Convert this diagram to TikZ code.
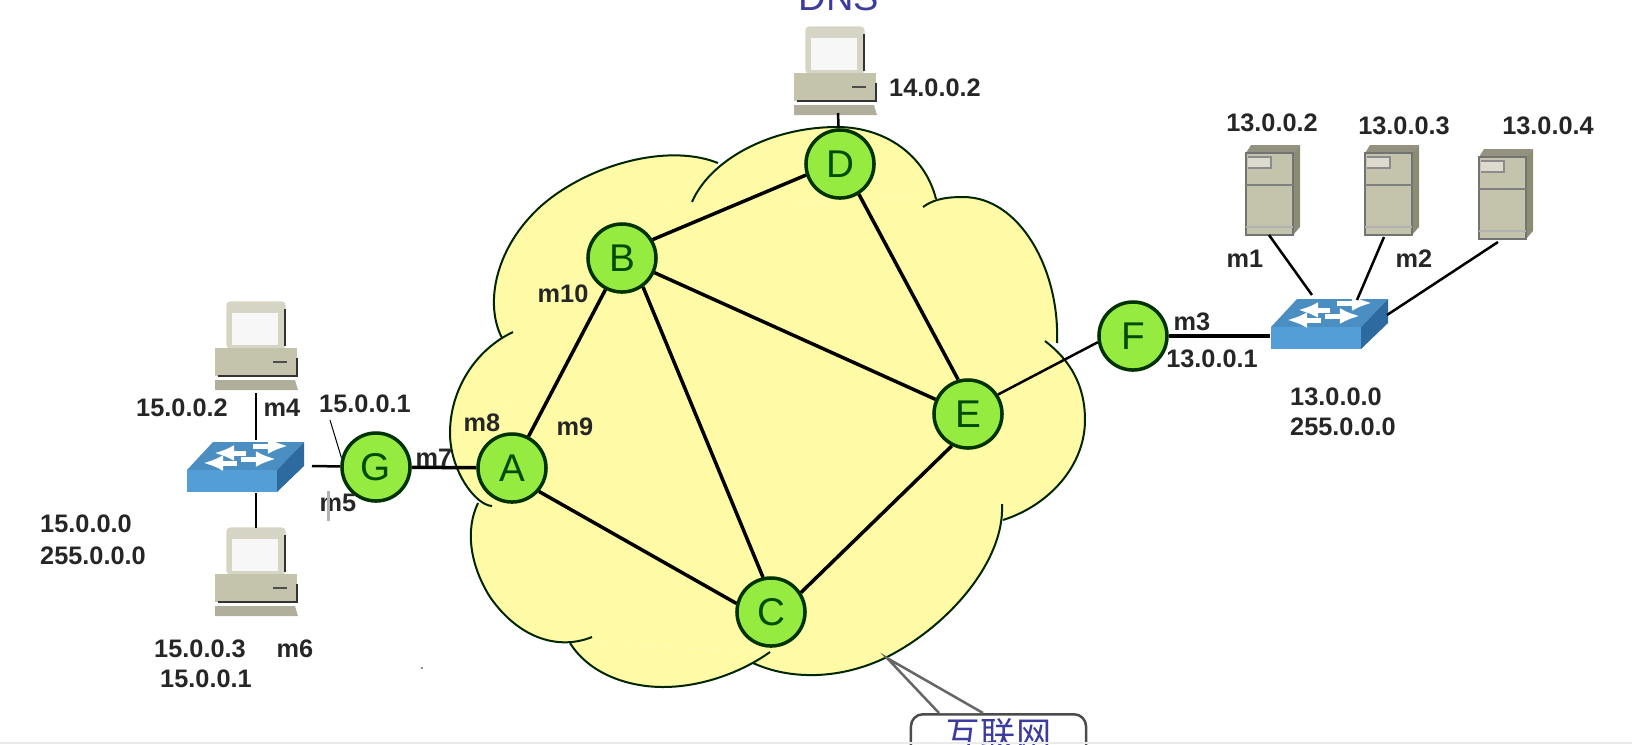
\documentclass[tikz,border=0pt]{standalone}
\usepackage{fontspec}
\setmainfont{Liberation Sans}
\newfontfamily\cjk{Noto Sans CJK SC}
\usetikzlibrary{arrows.meta}
\definecolor{cloudyellow}{RGB}{255,250,165}
\definecolor{routergreen}{RGB}{150,235,65}
\definecolor{boxgray}{RGB}{196,195,172}
\definecolor{boxdark}{RGB}{140,140,115}
\definecolor{switchblue}{RGB}{84,158,216}
\definecolor{switchdark}{RGB}{44,106,160}
\definecolor{labelblue}{RGB}{60,60,160}
\def\cloudbump#1{\fill[cloudyellow] #1; \draw[line width=0.2mm, color=black!85!green] #1;}
\tikzset{
	router/.style={circle, draw=black!80!green, fill=routergreen, line width=0.35mm, minimum size=0.68cm, inner sep=0pt, font=\fontsize{11}{11}\selectfont, text=black!70!green},
	infotext/.style={font=\bfseries\fontsize{7.2}{7.2}\selectfont, text=black!85, inner sep=0pt},
	linkline/.style={line width=0.35mm, color=black},
	thinlink/.style={line width=0.25mm, color=black},
	pccomp/.pic={
		\draw[fill=boxgray!70, draw=boxgray!70, rounded corners=1pt] (-29, 0) rectangle (29, 46);
		\fill[black!3] (-24, 11) rectangle (22, 43);
		\draw[line width=0.25mm, color=black!80] (29, 7) -- (29, 44);
		\fill[boxgray] (-41, 46) rectangle (41, 74);
		\draw[line width=0.25mm, color=black!80] (41, 56) -- (41, 74) -- (-38, 74);
		\draw[line width=0.2mm, color=black!70] (17, 60) -- (31, 60);
		\fill[boxgray!90!black] (-41, 78) -- (39, 78) -- (42, 88) -- (-41, 88) -- cycle;
	},
	srvcomp/.pic={
		\fill[boxgray!75!black] (0, 0) -- (5, -8) -- (54, -8) -- (47, 0) -- cycle;
		\fill[boxdark] (47, 0) -- (54, -8) -- (54, 74) -- (47, 82) -- cycle;
		\draw[fill=boxgray, draw=black!55, line width=0.2mm] (0, 0) rectangle (47, 82);
		\draw[draw=black!45, line width=0.2mm, fill=boxgray!60] (2, 4) -- (25, 4) -- (25, 15) -- (2, 15);
		\draw[line width=0.25mm, color=black!50] (0, 32) -- (47, 32);
		\draw[line width=0.2mm, color=black!30] (0, 74) -- (47, 74);
	},
	swcomp/.pic={
		\fill[switchblue!90!black] (0, 0) -- (26, -28) -- (117, -28) -- (90, 0) -- cycle;
		\fill[switchdark] (90, 0) -- (117, -28) -- (117, -4) -- (90, 22) -- cycle;
		\fill[switchblue] (0, 0) rectangle (90, 22);
		\foreach \xa/\xb/\ya in {59/27/-17, 66/101/-24, 50/16/-7, 54/89/-11}
			\draw[-{Latex[length=2mm,width=1.6mm]}, line width=0.5mm, color=white] (\xa, \ya) -- (\xb, \ya);
	}
}

\begin{document}
\begin{tikzpicture}[x=0.01cm, y=-0.01cm]
		%%%%% START %%%%%
		\useasboundingbox (0, 0) rectangle (1632, 744);
		\clip (0, 0) rectangle (1632, 744);
		
		% cloud
		\fill[cloudyellow] (502, 338) -- (718, 163) -- (692, 202) -- (936, 199) -- (923, 207) -- (1057, 343) -- (1045, 341) -- (1003, 520) -- (1002, 504) -- (753, 663) -- (770, 652) -- (570, 643) -- (592, 637) -- (478, 503) -- (492, 506) -- (513, 332) -- cycle;
		\cloudbump{(502, 338) .. controls (485, 305) and (495, 255) .. (530, 217) .. controls (570, 172) and (660, 140) .. (718, 163)}
		\cloudbump{(692, 202) .. controls (710, 160) and (770, 127) .. (837, 127) .. controls (885, 127) and (925, 155) .. (936, 199)}
		\cloudbump{(923, 207) .. controls (935, 198) and (950, 197) .. (963, 197) .. controls (1020, 197) and (1060, 270) .. (1057, 343)}
		\cloudbump{(1045, 341) .. controls (1070, 360) and (1085, 385) .. (1085, 420) .. controls (1085, 465) and (1050, 505) .. (1003, 520)}
		\cloudbump{(1002, 504) .. controls (1005, 560) and (950, 625) .. (887, 657) .. controls (840, 680) and (790, 680) .. (753, 663)}
		\cloudbump{(570, 643) .. controls (590, 675) and (630, 687) .. (663, 687) .. controls (705, 687) and (745, 670) .. (770, 652)}
		\cloudbump{(592, 637) .. controls (560, 650) and (520, 640) .. (490, 597) .. controls (470, 565) and (465, 530) .. (478, 503)}
		\cloudbump{(492, 506) .. controls (475, 505) and (450, 470) .. (450, 433) .. controls (450, 390) and (475, 350) .. (513, 332)}
		
		% devices
		\pic (pcup) at (256, 302) {pccomp};
		\pic (pcdown) at (256, 528) {pccomp};
		\pic (pcdns) at (835, 27) {pccomp};
		\pic (srva) at (1246, 153) {srvcomp};
		\pic (srvb) at (1365, 153) {srvcomp};
		\pic (srvc) at (1479, 157) {srvcomp};
		\pic (swleft) at (187, 470) {swcomp};
		\pic (swright) at (1271, 327) {swcomp};
		
		% routers
		\node[router] (A) at (512, 468) {A};
		\node[router] (B) at (622, 258) {B};
		\node[router] (C) at (771, 612) {C};
		\node[router] (D) at (840, 164) {D};
		\node[router] (E) at (968, 414) {E};
		\node[router] (F) at (1133, 336) {F};
		\node[router] (G) at (376, 467) {G};
		
		% free ends beside the devices
		\coordinate (pcupend) at (256, 393);
		\coordinate (swupend) at (256, 440);
		\coordinate (swdownend) at (256, 493);
		\coordinate (pcdownend) at (256, 528);
		\coordinate (swgend) at (312, 466);
		\coordinate (pcdnsend) at (838, 113);
		\coordinate (srvaend) at (1269, 235);
		\coordinate (srvbend) at (1384, 237);
		\coordinate (srvcend) at (1498, 242);
		\coordinate (swaend) at (1312, 295);
		\coordinate (swbend) at (1357, 300);
		\coordinate (swcend) at (1387, 315);
		\coordinate (swfend) at (1270, 336);
		\coordinate (gtagend) at (330, 420);
		
		% links
		\draw[linkline] (A) -- (B);
		\draw[linkline] (A.-41) -- (C.166);
		\draw[linkline] (B.-54) -- (C.103);
		\draw[linkline] (B.31) -- (D.198);
		\draw[linkline] (B) -- (E);
		\draw[linkline] (D.-58) -- (E.106);
		\draw[linkline] (E.243) -- (C.33);
		\draw[thinlink] (E.33) -- (F.190);
		\draw[linkline] (F) -- (swfend);
		\draw[linkline] (G) -- (A);
		\draw[thinlink] (G) -- (swgend);
		\draw[thinlink] (pcupend) -- (swupend);
		\draw[thinlink] (swdownend) -- (pcdownend);
		\draw[thinlink] (pcdnsend) -- (D);
		\draw[thinlink] (srvaend) -- (swaend);
		\draw[thinlink] (srvbend) -- (swbend);
		\draw[thinlink] (srvcend) -- (swcend);
		\draw[line width=0.1mm] (gtagend) -- (G.165);
		
		% labels
		\node[infotext] (ipa) at (182, 408) {15.0.0.2};
		\node[infotext] (mfour) at (282, 408) {m4};
		\node[infotext] (ipb) at (365, 404) {15.0.0.1};
		\node[infotext] (meight) at (482, 423) {m8};
		\node[infotext] (mseven) at (434, 458) {m7};
		\node[infotext] (mfive) at (338, 503) {m5};
		\node[infotext] (netleft) at (86, 524) {15.0.0.0};
		\node[infotext] (maskleft) at (93, 556) {255.0.0.0};
		\node[infotext] (ipc) at (200, 649) {15.0.0.3};
		\node[infotext] (msix) at (295, 649) {m6};
		\node[infotext] (ipd) at (206, 679) {15.0.0.1};
		\node[infotext] (ipdns) at (935, 88) {14.0.0.2};
		\node[infotext] (ipe) at (1272, 123) {13.0.0.2};
		\node[infotext] (ipf) at (1404, 126) {13.0.0.3};
		\node[infotext] (ipg) at (1548, 126) {13.0.0.4};
		\node[infotext] (mone) at (1245, 259) {m1};
		\node[infotext] (mtwo) at (1414, 259) {m2};
		\node[infotext] (mthree) at (1192, 322) {m3};
		\node[infotext] (iph) at (1212, 359) {13.0.0.1};
		\node[infotext] (netright) at (1336, 397) {13.0.0.0};
		\node[infotext] (maskright) at (1343, 427) {255.0.0.0};
		\node[infotext] (mnine) at (575, 427) {m9};
		\node[infotext] (mten) at (563, 294) {m10};
		\node[font=\fontsize{10.8}{10.8}\selectfont, text=labelblue, inner sep=0pt] (dnsname) at (839, -3) {DNS};
		
		% callout
		\coordinate (tailtip) at (887, 658);
		\coordinate (tailleft) at (939, 713);
		\coordinate (tailright) at (983, 713);
		\node[draw=black!70, line width=0.25mm, fill=white, rounded corners=1.2mm, minimum width=1.75cm, anchor=north, inner ysep=1.1pt, text depth=0.5cm, text=labelblue, font=\cjk\fontsize{10}{10}\selectfont] (netbox) at (998.5, 713) {互联网};
		\fill[white] (tailtip) -- (tailleft) -- (tailright) -- cycle;
		\draw[line width=0.25mm, color=black!60] (tailleft) -- (tailtip) -- (tailright);
		
		% scraps of the screen
		\draw[line width=0.3mm, color=black!30] (328, 491) -- (328, 521);
		\fill[black!60] (422, 668) circle (1.2);
		\fill[black!8] (0, 742) rectangle (1632, 744);
		%%%%% END %%%%%
	\end{tikzpicture}
\end{document}
